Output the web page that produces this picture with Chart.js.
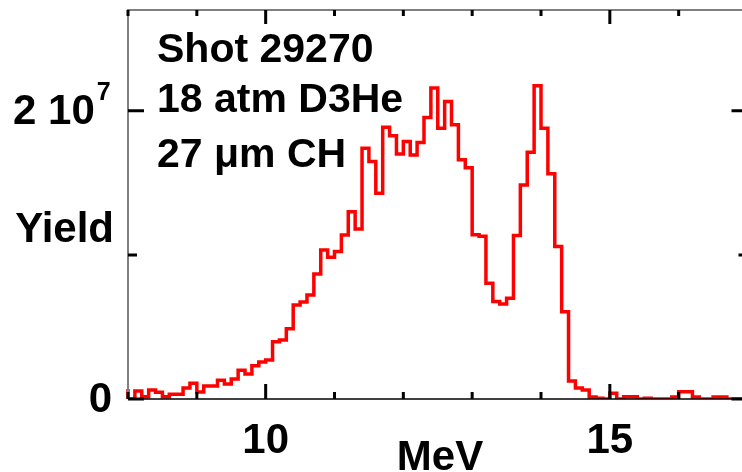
<!DOCTYPE html>
<html>
<head>
<meta charset="utf-8">
<script src="https://cdn.jsdelivr.net/npm/chart.js@4"></script>
<style>
  html, body { margin: 0; padding: 0; background: #fff; }
  #wrap { width: 742px; height: 472px; }
</style>
</head>
<body>
<div id="wrap"><canvas id="chart"></canvas></div>
<script>
// Histogramm: 0.1 MeV breite Bins ab 8 MeV, Ausbeute in Einheiten von 1e6
const binStart = 8.0;
const binWidth = 0.1;
const yields = [
  0.69, 0.00, 0.56, 0.16, 0.63, 0.46, 0.16, 0.33, 0.33, 0.76,
  1.09, 0.49, 0.90, 0.90, 1.30, 1.04, 1.39, 2.00, 1.74, 2.30,
  2.57, 2.70, 3.98, 4.10, 4.88, 6.53, 6.74, 7.22, 8.68, 10.35,
  9.84, 10.23, 11.39, 13.00, 11.80, 17.41, 16.48, 14.28, 18.87, 18.28,
  17.00, 17.87, 16.94, 17.80, 19.53, 21.58, 18.80, 20.65, 19.03, 16.60,
  16.05, 11.40, 11.30, 8.03, 6.76, 6.60, 6.99, 11.34, 14.86, 17.13,
  21.74, 18.80, 15.63, 10.58, 6.06, 1.25, 0.77, 0.62, 0.14, 0.05,
  0.00, 0.40, 0.00, 0.16, 0.16, 0.00, 0.05, 0.00, 0.00, 0.00,
  0.14, 0.50, 0.50, 0.14, 0.00, 0.00, 0.14, 0.14, 0.00, 0.00
];

// Achsen
const xMin = 8, xMax = 16.92;
const yMin = 0, yMax = 27;
const xTicks = [8, 9, 10, 11, 12, 13, 14, 15, 16, 17];
const xMajor = [10, 15];
const xLabels = [10, 15];
const yTicks = [0, 10, 20];
const yMajor = [0, 20];

const infoLines = ['Shot 29270', '18 atm D3He', '27 \u03bcm CH'];

// Punkte fuer die Stufenlinie (stepped 'after')
const points = [{ x: binStart, y: 0 }];
yields.forEach((v, i) => points.push({ x: binStart + i * binWidth, y: v }));
points.push({ x: binStart + yields.length * binWidth, y: yields[yields.length - 1] });

const FONT = '"Liberation Sans", Arial, sans-serif';

const framePlugin = {
  id: 'frame',
  afterDatasetsDraw(chart) {
    const ctx = chart.ctx;
    const xs = chart.scales.x, ys = chart.scales.y;
    const a = chart.chartArea;
    const xRight = xs.getPixelForValue(17);
    ctx.save();
    // Achsenlinien
    ctx.lineCap = 'butt';
    ctx.strokeStyle = '#808080';
    ctx.lineWidth = 2;
    ctx.beginPath();
    ctx.moveTo(a.left, a.bottom); ctx.lineTo(a.left, a.top);
    ctx.lineTo(a.right, a.top);
    ctx.stroke();
    ctx.strokeStyle = '#000';
    ctx.lineWidth = 1.5;
    ctx.beginPath();
    ctx.moveTo(a.left, a.bottom); ctx.lineTo(a.right, a.bottom);
    ctx.stroke();

    // Striche nach innen
    ctx.lineWidth = 3;
    ctx.strokeStyle = '#000';
    ctx.beginPath();
    xTicks.forEach(t => {
      const px = xs.getPixelForValue(t);
      const major = xMajor.includes(t);
      ctx.moveTo(px, a.bottom); ctx.lineTo(px, a.bottom - (major ? 15 : 7));
      ctx.moveTo(px, a.top); ctx.lineTo(px, a.top + (major ? 14 : 6));
    });
    yTicks.forEach(t => {
      const py = ys.getPixelForValue(t);
      const major = yMajor.includes(t);
      ctx.moveTo(a.left, py); ctx.lineTo(a.left + (major ? 16 : 9), py);
      ctx.moveTo(xRight, py); ctx.lineTo(xRight - (major ? 16 : 9), py);
    });
    ctx.stroke();
    ctx.restore();
  },
  afterDraw(chart) {
    const ctx = chart.ctx;
    const xs = chart.scales.x, ys = chart.scales.y;
    ctx.save();
    ctx.fillStyle = '#000';
    ctx.font = 'bold 41px ' + FONT;
    ctx.textBaseline = 'alphabetic';

    // Infotext
    ctx.textAlign = 'left';
    ctx.fillText(infoLines[0], 157, 62);
    ctx.fillText(infoLines[1], 157, 112);
    ctx.fillText(infoLines[2], 157, 167);

    // y-Beschriftung
    ctx.font = 'bold 42px ' + FONT;
    ctx.textAlign = 'right';
    ctx.fillText('0', 112, ys.getPixelForValue(0) + 13);
    ctx.fillText('Yield', 114, 242);
    ctx.textAlign = 'left';
    ctx.fillText('2 10', 13, ys.getPixelForValue(20) + 13);
    const w = ctx.measureText('2 10').width;
    ctx.font = 'bold 25px ' + FONT;
    ctx.fillText('7', 13 + w + 2, ys.getPixelForValue(20) - 11);

    // x-Beschriftung
    ctx.font = 'bold 42px ' + FONT;
    ctx.textAlign = 'center';
    xLabels.forEach(t => ctx.fillText(String(t), xs.getPixelForValue(t), 453));
    ctx.fillText('MeV', 440, 470);
    ctx.restore();
  }
};

new Chart(document.getElementById('chart'), {
  type: 'line',
  data: {
    datasets: [{
      data: points,
      stepped: 'after',
      borderColor: '#ff0000',
      borderWidth: 3.5,
      borderJoinStyle: 'miter',
      pointRadius: 0,
      fill: false,
      clip: { left: 4, top: 4, right: 0, bottom: 0 }
    }]
  },
  options: {
    animation: false,
    responsive: true,
    maintainAspectRatio: false,
    layout: { padding: { left: 128, top: 10, right: 0, bottom: 73 } },
    scales: {
      x: { type: 'linear', min: xMin, max: xMax, display: false },
      y: { min: yMin, max: yMax, display: false }
    },
    plugins: { legend: { display: false }, tooltip: { enabled: false } }
  },
  plugins: [framePlugin]
});
</script>
</body>
</html>
